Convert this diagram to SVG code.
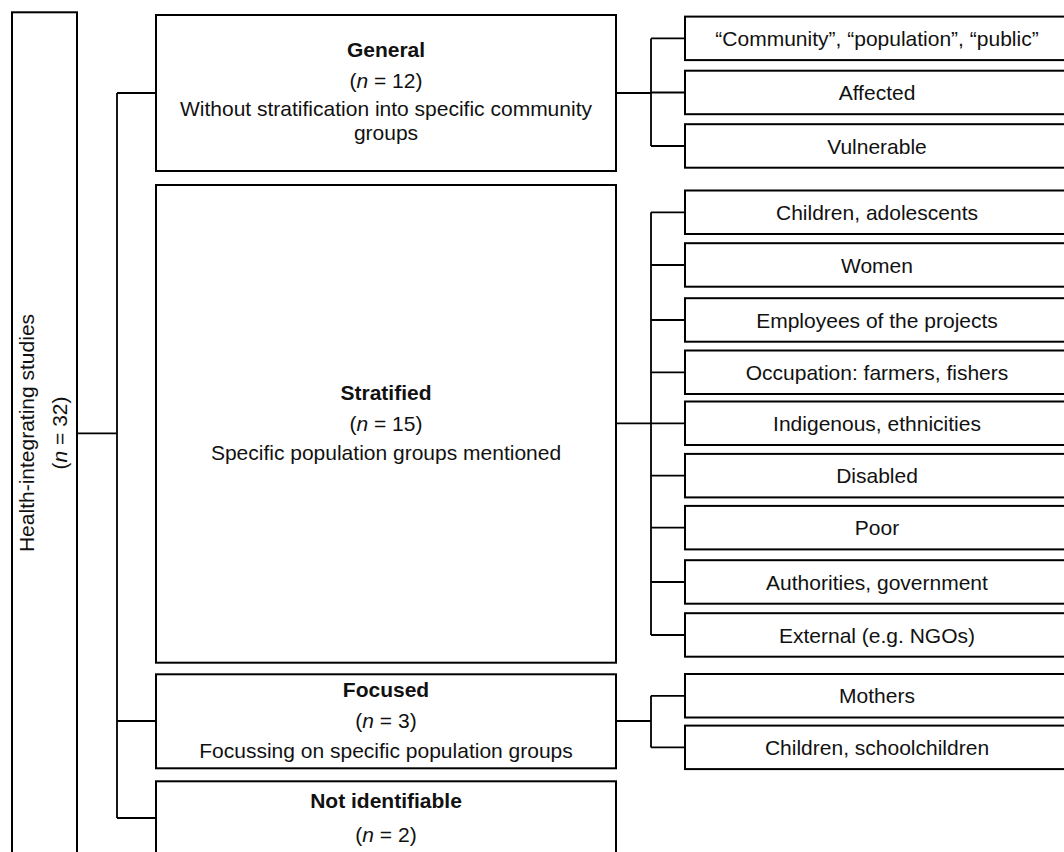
<svg xmlns="http://www.w3.org/2000/svg" width="1064" height="852" viewBox="0 0 1064 852">
<style>
.box{fill:#fff;stroke:#000;stroke-width:2}
.ln{fill:none;stroke:#000;stroke-width:1.8}
text{font-family:"Liberation Sans",Arial,Helvetica,sans-serif;font-size:21px;fill:#111;text-anchor:middle}
.b{font-weight:bold}
</style>
<rect width="1064" height="852" fill="#fff"/>
<g id="connectors">
<path class="ln" d="M77 433.3H117M117 93V818M117 93H156M117 721H156M117 818H156"/>
<path class="ln" d="M616 93H651M651 38.4V146M651 38.4H685M651 92.5H685M651 146H685"/>
<path class="ln" d="M616 423.3H651M651 212.3V635M651 212.3H685M651 265H685M651 320H685M651 372.3H685M651 423.3H685M651 475.7H685M651 527.7H685M651 582H685M651 635H685"/>
<path class="ln" d="M616 721H651M651 695.8V747.4M651 695.8H685M651 747.4H685"/>
</g>
<g id="root">
<rect class="box" x="12" y="12.3" width="65" height="900"/>
<text transform="translate(34,433) rotate(-90)">Health-integrating studies</text>
<text transform="translate(67,433) rotate(-90)">(<tspan font-style="italic">n</tspan> = 32)</text>
</g>
<g id="general">
<rect class="box" x="156" y="15" width="460" height="156"/>
<text class="b" x="386" y="57">General</text>
<text x="386" y="88">(<tspan font-style="italic">n</tspan> = 12)</text>
<text x="386" y="115.5">Without stratification into specific community</text>
<text x="386" y="139.5">groups</text>
</g>
<g id="stratified">
<rect class="box" x="156" y="185" width="460" height="477.7"/>
<text class="b" x="386" y="400">Stratified</text>
<text x="386" y="431">(<tspan font-style="italic">n</tspan> = 15)</text>
<text x="386" y="460">Specific population groups mentioned</text>
</g>
<g id="focused">
<rect class="box" x="156" y="674.3" width="460" height="94"/>
<text class="b" x="386" y="697">Focused</text>
<text x="386" y="728">(<tspan font-style="italic">n</tspan> = 3)</text>
<text x="386" y="758">Focussing on specific population groups</text>
</g>
<g id="not-identifiable">
<rect class="box" x="156" y="781.3" width="460" height="100"/>
<text class="b" x="386" y="808">Not identifiable</text>
<text x="386" y="842">(<tspan font-style="italic">n</tspan> = 2)</text>
</g>
<g id="g-community"><rect class="box" x="685" y="16.6" width="390" height="43.5"/><text x="877" y="45.9">“Community”, “population”, “public”</text></g>
<g id="g-affected"><rect class="box" x="685" y="70.7" width="390" height="43.5"/><text x="877" y="100">Affected</text></g>
<g id="g-vulnerable"><rect class="box" x="685" y="124.2" width="390" height="43.5"/><text x="877" y="153.5">Vulnerable</text></g>
<g id="s-children"><rect class="box" x="685" y="190.5" width="390" height="43.5"/><text x="877" y="219.8">Children, adolescents</text></g>
<g id="s-women"><rect class="box" x="685" y="243.2" width="390" height="43.5"/><text x="877" y="272.5">Women</text></g>
<g id="s-employees"><rect class="box" x="685" y="298.2" width="390" height="43.5"/><text x="877" y="327.5">Employees of the projects</text></g>
<g id="s-occupation"><rect class="box" x="685" y="350.5" width="390" height="43.5"/><text x="877" y="379.8">Occupation: farmers, fishers</text></g>
<g id="s-indigenous"><rect class="box" x="685" y="401.5" width="390" height="43.5"/><text x="877" y="430.8">Indigenous, ethnicities</text></g>
<g id="s-disabled"><rect class="box" x="685" y="453.9" width="390" height="43.5"/><text x="877" y="483.2">Disabled</text></g>
<g id="s-poor"><rect class="box" x="685" y="505.9" width="390" height="43.5"/><text x="877" y="535.2">Poor</text></g>
<g id="s-authorities"><rect class="box" x="685" y="560.2" width="390" height="43.5"/><text x="877" y="589.5">Authorities, government</text></g>
<g id="s-external"><rect class="box" x="685" y="613.2" width="390" height="43.5"/><text x="877" y="642.5">External (e.g. NGOs)</text></g>
<g id="f-mothers"><rect class="box" x="685" y="674" width="390" height="43.5"/><text x="877" y="703.3">Mothers</text></g>
<g id="f-children"><rect class="box" x="685" y="725.6" width="390" height="43.5"/><text x="877" y="754.9">Children, schoolchildren</text></g>
</svg>
